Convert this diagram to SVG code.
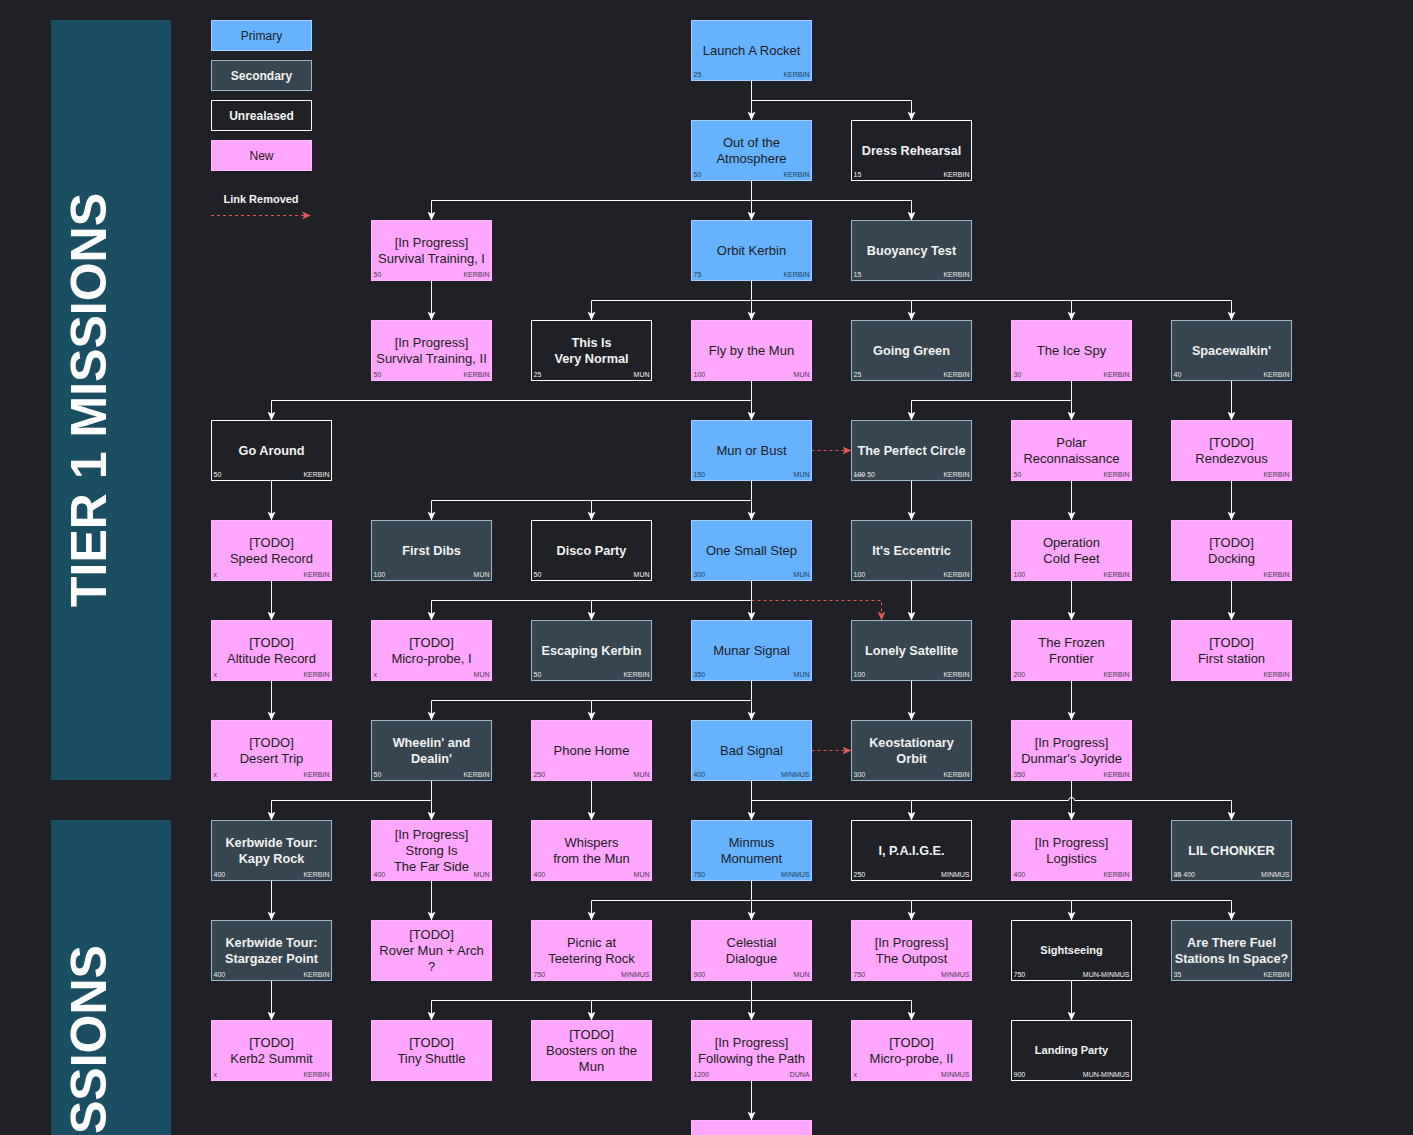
<svg xmlns="http://www.w3.org/2000/svg" width="1413" height="1135" viewBox="0 0 1413 1135">
<defs>
<marker id="a" markerUnits="userSpaceOnUse" markerWidth="9" markerHeight="9" viewBox="0 0 9 9" refX="9" refY="4.5" orient="auto"><path d="M0,0.5 L9,4.5 L0,8.5 L2.2,4.5 z" fill="#ffffff"/></marker>
<marker id="ar" markerUnits="userSpaceOnUse" markerWidth="9" markerHeight="9" viewBox="0 0 9 9" refX="9" refY="4.5" orient="auto"><path d="M0,0.5 L9,4.5 L0,8.5 L2.2,4.5 z" fill="#e05858"/></marker>
<style>
text{font-family:"Liberation Sans",Arial,sans-serif}
.t{font-size:13px;text-anchor:middle}
.p rect{fill:#66b2ff;stroke:#a6ceff}
.n rect{fill:#ffa6ff;stroke:#ffb8ff}
.s rect{fill:#36454f;stroke:#9cb8cd}
.u rect{fill:#1f2126;stroke:#ffffff}
.p .t,.n .t{fill:#1c1c1c}
.s .t,.u .t{fill:#f2f2f2;font-weight:bold;font-size:12.7px}
.s .sm,.u .sm{font-size:11px}
.l,.r{font-size:7px}
.r{text-anchor:end}
.p .l,.p .r{fill:#23405f}
.n .l,.n .r{fill:#4a3a4a}
.s .l,.s .r{fill:#e6e6e6}
.u .l,.u .r{fill:#f2f2f2}
.c path{fill:none;stroke:#ffffff;stroke-width:1;marker-end:url(#a)}
.c path.d{stroke:#e05858;stroke-dasharray:3 3;marker-end:url(#ar)}
.lg{font-size:12px;text-anchor:middle}
.ban{fill:#1a4e62}
.bt{font-size:50px;font-weight:bold;fill:#ffffff}
</style>
</defs>
<rect width="1413" height="1135" fill="#1f2126"/>

<g id="banner-tier1"><rect class="ban" x="51" y="20" width="120" height="760"/><text class="bt" transform="translate(106,400) rotate(-90)" text-anchor="middle">TIER 1 MISSIONS</text></g>
<g id="banner-tier2"><rect class="ban" x="51" y="820" width="120" height="315"/><text class="bt" transform="translate(106,1134) rotate(-90)">SSIONS</text></g>

<g id="legend">
<g id="legend-primary" class="p"><rect x="211.5" y="20.5" width="100" height="30"/><text class="lg" x="261.5" y="39.5" fill="#1c1c1c">Primary</text></g>
<g id="legend-secondary" class="s"><rect x="211.5" y="60.5" width="100" height="30"/><text class="lg" x="261.5" y="79.5" fill="#f2f2f2" font-weight="bold">Secondary</text></g>
<g id="legend-unreleased" class="u"><rect x="211.5" y="100.5" width="100" height="30"/><text class="lg" x="261.5" y="119.5" fill="#f2f2f2" font-weight="bold">Unrealased</text></g>
<g id="legend-new" class="n"><rect x="211.5" y="140.5" width="100" height="30"/><text class="lg" x="261.5" y="159.5" fill="#1c1c1c">New</text></g>
<g id="legend-removed"><text x="261" y="203" font-size="11px" font-weight="bold" fill="#f2f2f2" text-anchor="middle">Link Removed</text><path d="M211,215.5 H311" fill="none" stroke="#e05858" stroke-dasharray="3 3" marker-end="url(#ar)"/></g>
</g>

<g id="connectors" class="c" transform="translate(0.5,0.5)">
<path d="M751,80 V120"/>
<path d="M751,80 V100 H911 V120"/>
<path d="M751,180 V200 H431 V220"/>
<path d="M751,180 V220"/>
<path d="M751,200 H911 V220"/>
<path d="M431,280 V320"/>
<path d="M751,280 V300 H591 V320"/>
<path d="M751,280 V320"/>
<path d="M751,300 H911 V320"/>
<path d="M751,300 H1071 V320"/>
<path d="M751,300 H1231 V320"/>
<path d="M751,380 V400 H271 V420"/>
<path d="M751,380 V420"/>
<path d="M1071,380 V400 H911 V420"/>
<path d="M1071,380 V420"/>
<path d="M1231,380 V420"/>
<path d="M271,480 V520"/>
<path d="M751,480 V500 H431 V520"/>
<path d="M751,500 H591 V520"/>
<path d="M751,480 V520"/>
<path class="d" d="M811,450 H851"/>
<path d="M911,480 V520"/>
<path d="M1071,480 V520"/>
<path d="M1231,480 V520"/>
<path d="M271,580 V620"/>
<path d="M751,580 V600 H431 V620"/>
<path d="M751,600 H591 V620"/>
<path d="M751,580 V620"/>
<path class="d" d="M751,600 H881 V620"/>
<path d="M911,580 V620"/>
<path d="M1071,580 V620"/>
<path d="M1231,580 V620"/>
<path d="M271,680 V720"/>
<path d="M751,680 V700 H431 V720"/>
<path d="M751,700 H591 V720"/>
<path d="M751,680 V720"/>
<path d="M911,680 V720"/>
<path d="M1071,680 V720"/>
<path class="d" d="M811,750 H851"/>
<path d="M431,780 V800 H271 V820"/>
<path d="M431,780 V820"/>
<path d="M591,780 V820"/>
<path d="M751,780 V820"/>
<path d="M751,800 H911 V820"/>
<path d="M751,800 H1068 A3,3 0 0 1 1074,800 H1231 V820"/>
<path d="M1071,780 V820"/>
<path d="M271,880 V920"/>
<path d="M431,880 V920"/>
<path d="M751,880 V900 H591 V920"/>
<path d="M751,880 V920"/>
<path d="M751,900 H911 V920"/>
<path d="M751,900 H1071 V920"/>
<path d="M751,900 H1231 V920"/>
<path d="M271,980 V1020"/>
<path d="M751,980 V1000 H431 V1020"/>
<path d="M751,1000 H591 V1020"/>
<path d="M751,980 V1020"/>
<path d="M751,1000 H911 V1020"/>
<path d="M1071,980 V1020"/>
<path d="M751,1080 V1120"/>
</g>

<g id="n-launch" class="p" transform="translate(691,20)"><rect x="0.5" y="0.5" width="120" height="60"/><text class="t" x="60.5" y="34.5">Launch A Rocket</text><text class="l" x="2.5" y="57">25</text><text class="r" x="118.5" y="57">KERBIN</text></g>
<g id="n-atmosphere" class="p" transform="translate(691,120)"><rect x="0.5" y="0.5" width="120" height="60"/><text class="t" x="60.5" y="26.5">Out of the</text><text class="t" x="60.5" y="42.5">Atmosphere</text><text class="l" x="2.5" y="57">50</text><text class="r" x="118.5" y="57">KERBIN</text></g>
<g id="n-dress" class="u" transform="translate(851,120)"><rect x="0.5" y="0.5" width="120" height="60"/><text class="t" x="60.5" y="34.5">Dress Rehearsal</text><text class="l" x="2.5" y="57">15</text><text class="r" x="118.5" y="57">KERBIN</text></g>
<g id="n-surv1" class="n" transform="translate(371,220)"><rect x="0.5" y="0.5" width="120" height="60"/><text class="t" x="60.5" y="26.5">[In Progress]</text><text class="t" x="60.5" y="42.5">Survival Training, I</text><text class="l" x="2.5" y="57">50</text><text class="r" x="118.5" y="57">KERBIN</text></g>
<g id="n-orbit" class="p" transform="translate(691,220)"><rect x="0.5" y="0.5" width="120" height="60"/><text class="t" x="60.5" y="34.5">Orbit Kerbin</text><text class="l" x="2.5" y="57">75</text><text class="r" x="118.5" y="57">KERBIN</text></g>
<g id="n-buoyancy" class="s" transform="translate(851,220)"><rect x="0.5" y="0.5" width="120" height="60"/><text class="t" x="60.5" y="34.5">Buoyancy Test</text><text class="l" x="2.5" y="57">15</text><text class="r" x="118.5" y="57">KERBIN</text></g>

<g id="n-surv2" class="n" transform="translate(371,320)"><rect x="0.5" y="0.5" width="120" height="60"/><text class="t" x="60.5" y="26.5">[In Progress]</text><text class="t" x="60.5" y="42.5">Survival Training, II</text><text class="l" x="2.5" y="57">50</text><text class="r" x="118.5" y="57">KERBIN</text></g>
<g id="n-normal" class="u" transform="translate(531,320)"><rect x="0.5" y="0.5" width="120" height="60"/><text class="t" x="60.5" y="26.5">This Is</text><text class="t" x="60.5" y="42.5">Very Normal</text><text class="l" x="2.5" y="57">25</text><text class="r" x="118.5" y="57">MUN</text></g>
<g id="n-flyby" class="n" transform="translate(691,320)"><rect x="0.5" y="0.5" width="120" height="60"/><text class="t" x="60.5" y="34.5">Fly by the Mun</text><text class="l" x="2.5" y="57">100</text><text class="r" x="118.5" y="57">MUN</text></g>
<g id="n-green" class="s" transform="translate(851,320)"><rect x="0.5" y="0.5" width="120" height="60"/><text class="t" x="60.5" y="34.5">Going Green</text><text class="l" x="2.5" y="57">25</text><text class="r" x="118.5" y="57">KERBIN</text></g>
<g id="n-icespy" class="n" transform="translate(1011,320)"><rect x="0.5" y="0.5" width="120" height="60"/><text class="t" x="60.5" y="34.5">The Ice Spy</text><text class="l" x="2.5" y="57">30</text><text class="r" x="118.5" y="57">KERBIN</text></g>
<g id="n-spacewalk" class="s" transform="translate(1171,320)"><rect x="0.5" y="0.5" width="120" height="60"/><text class="t" x="60.5" y="34.5">Spacewalkin'</text><text class="l" x="2.5" y="57">40</text><text class="r" x="118.5" y="57">KERBIN</text></g>

<g id="n-goaround" class="u" transform="translate(211,420)"><rect x="0.5" y="0.5" width="120" height="60"/><text class="t" x="60.5" y="34.5">Go Around</text><text class="l" x="2.5" y="57">50</text><text class="r" x="118.5" y="57">KERBIN</text></g>
<g id="n-munorbust" class="p" transform="translate(691,420)"><rect x="0.5" y="0.5" width="120" height="60"/><text class="t" x="60.5" y="34.5">Mun or Bust</text><text class="l" x="2.5" y="57">150</text><text class="r" x="118.5" y="57">MUN</text></g>
<g id="n-perfect" class="s" transform="translate(851,420)"><rect x="0.5" y="0.5" width="120" height="60"/><text class="t" x="60.5" y="34.5">The Perfect Circle</text><text class="l" x="2.5" y="57"><tspan style="text-decoration:line-through">100</tspan> 50</text><text class="r" x="118.5" y="57">KERBIN</text></g>
<g id="n-polar" class="n" transform="translate(1011,420)"><rect x="0.5" y="0.5" width="120" height="60"/><text class="t" x="60.5" y="26.5">Polar</text><text class="t" x="60.5" y="42.5">Reconnaissance</text><text class="l" x="2.5" y="57">50</text><text class="r" x="118.5" y="57">KERBIN</text></g>
<g id="n-rendezvous" class="n" transform="translate(1171,420)"><rect x="0.5" y="0.5" width="120" height="60"/><text class="t" x="60.5" y="26.5">[TODO]</text><text class="t" x="60.5" y="42.5">Rendezvous</text><text class="r" x="118.5" y="57">KERBIN</text></g>

<g id="n-speed" class="n" transform="translate(211,520)"><rect x="0.5" y="0.5" width="120" height="60"/><text class="t" x="60.5" y="26.5">[TODO]</text><text class="t" x="60.5" y="42.5">Speed Record</text><text class="l" x="2.5" y="57">x</text><text class="r" x="118.5" y="57">KERBIN</text></g>
<g id="n-firstdibs" class="s" transform="translate(371,520)"><rect x="0.5" y="0.5" width="120" height="60"/><text class="t" x="60.5" y="34.5">First Dibs</text><text class="l" x="2.5" y="57">100</text><text class="r" x="118.5" y="57">MUN</text></g>
<g id="n-disco" class="u" transform="translate(531,520)"><rect x="0.5" y="0.5" width="120" height="60"/><text class="t" x="60.5" y="34.5">Disco Party</text><text class="l" x="2.5" y="57">50</text><text class="r" x="118.5" y="57">MUN</text></g>
<g id="n-smallstep" class="p" transform="translate(691,520)"><rect x="0.5" y="0.5" width="120" height="60"/><text class="t" x="60.5" y="34.5">One Small Step</text><text class="l" x="2.5" y="57">300</text><text class="r" x="118.5" y="57">MUN</text></g>
<g id="n-eccentric" class="s" transform="translate(851,520)"><rect x="0.5" y="0.5" width="120" height="60"/><text class="t" x="60.5" y="34.5">It's Eccentric</text><text class="l" x="2.5" y="57">100</text><text class="r" x="118.5" y="57">KERBIN</text></g>
<g id="n-coldfeet" class="n" transform="translate(1011,520)"><rect x="0.5" y="0.5" width="120" height="60"/><text class="t" x="60.5" y="26.5">Operation</text><text class="t" x="60.5" y="42.5">Cold Feet</text><text class="l" x="2.5" y="57">100</text><text class="r" x="118.5" y="57">KERBIN</text></g>
<g id="n-docking" class="n" transform="translate(1171,520)"><rect x="0.5" y="0.5" width="120" height="60"/><text class="t" x="60.5" y="26.5">[TODO]</text><text class="t" x="60.5" y="42.5">Docking</text><text class="r" x="118.5" y="57">KERBIN</text></g>

<g id="n-altitude" class="n" transform="translate(211,620)"><rect x="0.5" y="0.5" width="120" height="60"/><text class="t" x="60.5" y="26.5">[TODO]</text><text class="t" x="60.5" y="42.5">Altitude Record</text><text class="l" x="2.5" y="57">x</text><text class="r" x="118.5" y="57">KERBIN</text></g>
<g id="n-micro1" class="n" transform="translate(371,620)"><rect x="0.5" y="0.5" width="120" height="60"/><text class="t" x="60.5" y="26.5">[TODO]</text><text class="t" x="60.5" y="42.5">Micro-probe, I</text><text class="l" x="2.5" y="57">x</text><text class="r" x="118.5" y="57">MUN</text></g>
<g id="n-escaping" class="s" transform="translate(531,620)"><rect x="0.5" y="0.5" width="120" height="60"/><text class="t" x="60.5" y="34.5">Escaping Kerbin</text><text class="l" x="2.5" y="57">50</text><text class="r" x="118.5" y="57">KERBIN</text></g>
<g id="n-munar" class="p" transform="translate(691,620)"><rect x="0.5" y="0.5" width="120" height="60"/><text class="t" x="60.5" y="34.5">Munar Signal</text><text class="l" x="2.5" y="57">350</text><text class="r" x="118.5" y="57">MUN</text></g>
<g id="n-lonely" class="s" transform="translate(851,620)"><rect x="0.5" y="0.5" width="120" height="60"/><text class="t" x="60.5" y="34.5">Lonely Satellite</text><text class="l" x="2.5" y="57">100</text><text class="r" x="118.5" y="57">KERBIN</text></g>
<g id="n-frozen" class="n" transform="translate(1011,620)"><rect x="0.5" y="0.5" width="120" height="60"/><text class="t" x="60.5" y="26.5">The Frozen</text><text class="t" x="60.5" y="42.5">Frontier</text><text class="l" x="2.5" y="57">200</text><text class="r" x="118.5" y="57">KERBIN</text></g>
<g id="n-station" class="n" transform="translate(1171,620)"><rect x="0.5" y="0.5" width="120" height="60"/><text class="t" x="60.5" y="26.5">[TODO]</text><text class="t" x="60.5" y="42.5">First station</text><text class="r" x="118.5" y="57">KERBIN</text></g>

<g id="n-desert" class="n" transform="translate(211,720)"><rect x="0.5" y="0.5" width="120" height="60"/><text class="t" x="60.5" y="26.5">[TODO]</text><text class="t" x="60.5" y="42.5">Desert Trip</text><text class="l" x="2.5" y="57">x</text><text class="r" x="118.5" y="57">KERBIN</text></g>
<g id="n-wheelin" class="s" transform="translate(371,720)"><rect x="0.5" y="0.5" width="120" height="60"/><text class="t" x="60.5" y="26.5">Wheelin' and</text><text class="t" x="60.5" y="42.5">Dealin'</text><text class="l" x="2.5" y="57">50</text><text class="r" x="118.5" y="57">KERBIN</text></g>
<g id="n-phone" class="n" transform="translate(531,720)"><rect x="0.5" y="0.5" width="120" height="60"/><text class="t" x="60.5" y="34.5">Phone Home</text><text class="l" x="2.5" y="57">250</text><text class="r" x="118.5" y="57">MUN</text></g>
<g id="n-badsignal" class="p" transform="translate(691,720)"><rect x="0.5" y="0.5" width="120" height="60"/><text class="t" x="60.5" y="34.5">Bad Signal</text><text class="l" x="2.5" y="57">400</text><text class="r" x="118.5" y="57">MINMUS</text></g>
<g id="n-keo" class="s" transform="translate(851,720)"><rect x="0.5" y="0.5" width="120" height="60"/><text class="t" x="60.5" y="26.5">Keostationary</text><text class="t" x="60.5" y="42.5">Orbit</text><text class="l" x="2.5" y="57">300</text><text class="r" x="118.5" y="57">KERBIN</text></g>
<g id="n-dunmar" class="n" transform="translate(1011,720)"><rect x="0.5" y="0.5" width="120" height="60"/><text class="t" x="60.5" y="26.5">[In Progress]</text><text class="t" x="60.5" y="42.5">Dunmar's Joyride</text><text class="l" x="2.5" y="57">350</text><text class="r" x="118.5" y="57">KERBIN</text></g>

<g id="n-kapy" class="s" transform="translate(211,820)"><rect x="0.5" y="0.5" width="120" height="60"/><text class="t" x="60.5" y="26.5">Kerbwide Tour:</text><text class="t" x="60.5" y="42.5">Kapy Rock</text><text class="l" x="2.5" y="57">400</text><text class="r" x="118.5" y="57">KERBIN</text></g>
<g id="n-strong" class="n" transform="translate(371,820)"><rect x="0.5" y="0.5" width="120" height="60"/><text class="t" x="60.5" y="18.5">[In Progress]</text><text class="t" x="60.5" y="34.5">Strong Is</text><text class="t" x="60.5" y="50.5">The Far Side</text><text class="l" x="2.5" y="57">400</text><text class="r" x="118.5" y="57">MUN</text></g>
<g id="n-whispers" class="n" transform="translate(531,820)"><rect x="0.5" y="0.5" width="120" height="60"/><text class="t" x="60.5" y="26.5">Whispers</text><text class="t" x="60.5" y="42.5">from the Mun</text><text class="l" x="2.5" y="57">400</text><text class="r" x="118.5" y="57">MUN</text></g>
<g id="n-monument" class="p" transform="translate(691,820)"><rect x="0.5" y="0.5" width="120" height="60"/><text class="t" x="60.5" y="26.5">Minmus</text><text class="t" x="60.5" y="42.5">Monument</text><text class="l" x="2.5" y="57">750</text><text class="r" x="118.5" y="57">MINMUS</text></g>
<g id="n-paige" class="u" transform="translate(851,820)"><rect x="0.5" y="0.5" width="120" height="60"/><text class="t" x="60.5" y="34.5">I, P.A.I.G.E.</text><text class="l" x="2.5" y="57">250</text><text class="r" x="118.5" y="57">MINMUS</text></g>
<g id="n-logistics" class="n" transform="translate(1011,820)"><rect x="0.5" y="0.5" width="120" height="60"/><text class="t" x="60.5" y="26.5">[In Progress]</text><text class="t" x="60.5" y="42.5">Logistics</text><text class="l" x="2.5" y="57">400</text><text class="r" x="118.5" y="57">KERBIN</text></g>
<g id="n-chonker" class="s" transform="translate(1171,820)"><rect x="0.5" y="0.5" width="120" height="60"/><text class="t" x="60.5" y="34.5">LIL CHONKER</text><text class="l" x="2.5" y="57"><tspan style="text-decoration:line-through">35</tspan> 400</text><text class="r" x="118.5" y="57">MINMUS</text></g>

<g id="n-stargazer" class="s" transform="translate(211,920)"><rect x="0.5" y="0.5" width="120" height="60"/><text class="t" x="60.5" y="26.5">Kerbwide Tour:</text><text class="t" x="60.5" y="42.5">Stargazer Point</text><text class="l" x="2.5" y="57">400</text><text class="r" x="118.5" y="57">KERBIN</text></g>
<g id="n-rover" class="n" transform="translate(371,920)"><rect x="0.5" y="0.5" width="120" height="60"/><text class="t" x="60.5" y="18.5">[TODO]</text><text class="t" x="60.5" y="34.5">Rover Mun + Arch</text><text class="t" x="60.5" y="50.5">?</text></g>
<g id="n-picnic" class="n" transform="translate(531,920)"><rect x="0.5" y="0.5" width="120" height="60"/><text class="t" x="60.5" y="26.5">Picnic at</text><text class="t" x="60.5" y="42.5">Teetering Rock</text><text class="l" x="2.5" y="57">750</text><text class="r" x="118.5" y="57">MINMUS</text></g>
<g id="n-celestial" class="n" transform="translate(691,920)"><rect x="0.5" y="0.5" width="120" height="60"/><text class="t" x="60.5" y="26.5">Celestial</text><text class="t" x="60.5" y="42.5">Dialogue</text><text class="l" x="2.5" y="57">900</text><text class="r" x="118.5" y="57">MUN</text></g>
<g id="n-outpost" class="n" transform="translate(851,920)"><rect x="0.5" y="0.5" width="120" height="60"/><text class="t" x="60.5" y="26.5">[In Progress]</text><text class="t" x="60.5" y="42.5">The Outpost</text><text class="l" x="2.5" y="57">750</text><text class="r" x="118.5" y="57">MINMUS</text></g>
<g id="n-sightseeing" class="u" transform="translate(1011,920)"><rect x="0.5" y="0.5" width="120" height="60"/><text class="t sm" x="60.5" y="34">Sightseeing</text><text class="l" x="2.5" y="57">750</text><text class="r" x="118.5" y="57">MUN-MINMUS</text></g>
<g id="n-fuel" class="s" transform="translate(1171,920)"><rect x="0.5" y="0.5" width="120" height="60"/><text class="t" x="60.5" y="26.5">Are There Fuel</text><text class="t" x="60.5" y="42.5">Stations In Space?</text><text class="l" x="2.5" y="57">35</text><text class="r" x="118.5" y="57">KERBIN</text></g>

<g id="n-kerb2" class="n" transform="translate(211,1020)"><rect x="0.5" y="0.5" width="120" height="60"/><text class="t" x="60.5" y="26.5">[TODO]</text><text class="t" x="60.5" y="42.5">Kerb2 Summit</text><text class="l" x="2.5" y="57">x</text><text class="r" x="118.5" y="57">KERBIN</text></g>
<g id="n-shuttle" class="n" transform="translate(371,1020)"><rect x="0.5" y="0.5" width="120" height="60"/><text class="t" x="60.5" y="26.5">[TODO]</text><text class="t" x="60.5" y="42.5">Tiny Shuttle</text></g>
<g id="n-boosters" class="n" transform="translate(531,1020)"><rect x="0.5" y="0.5" width="120" height="60"/><text class="t" x="60.5" y="18.5">[TODO]</text><text class="t" x="60.5" y="34.5">Boosters on the</text><text class="t" x="60.5" y="50.5">Mun</text></g>
<g id="n-path" class="n" transform="translate(691,1020)"><rect x="0.5" y="0.5" width="120" height="60"/><text class="t" x="60.5" y="26.5">[In Progress]</text><text class="t" x="60.5" y="42.5">Following the Path</text><text class="l" x="2.5" y="57">1200</text><text class="r" x="118.5" y="57">DUNA</text></g>
<g id="n-micro2" class="n" transform="translate(851,1020)"><rect x="0.5" y="0.5" width="120" height="60"/><text class="t" x="60.5" y="26.5">[TODO]</text><text class="t" x="60.5" y="42.5">Micro-probe, II</text><text class="l" x="2.5" y="57">x</text><text class="r" x="118.5" y="57">MINMUS</text></g>
<g id="n-landing" class="u" transform="translate(1011,1020)"><rect x="0.5" y="0.5" width="120" height="60"/><text class="t sm" x="60.5" y="34">Landing Party</text><text class="l" x="2.5" y="57">900</text><text class="r" x="118.5" y="57">MUN-MINMUS</text></g>
<g id="n-next" class="n" transform="translate(691,1120)"><rect x="0.5" y="0.5" width="120" height="60"/></g>
</svg>
